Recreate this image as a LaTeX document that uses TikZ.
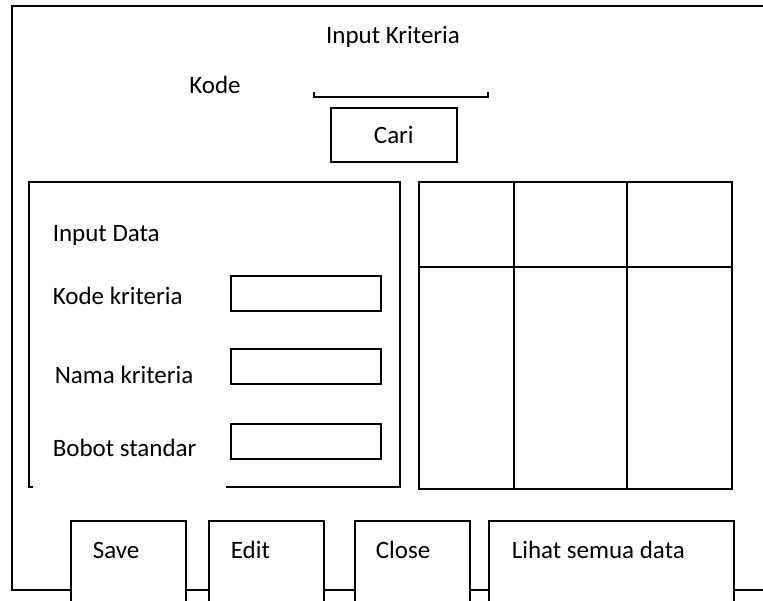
\documentclass[tikz,border=0pt]{standalone}
\usepackage{fontspec}
\setmainfont{Carlito}
\usetikzlibrary{positioning}
\tikzset{
  lbl/.style={inner sep=0pt, anchor=west},
  field/.style={draw, line width=1.6pt, inner sep=0pt, minimum width=150pt, minimum height=35pt, anchor=north west},
  btn/.style={draw, fill=white, line width=1.6pt, inner sep=0pt, minimum height=110pt, anchor=north west}
}
\begin{document}
\begin{tikzpicture}[x=1pt, y=-1pt, line width=1.6pt, font=\fontsize{25}{30}\selectfont]
    \useasboundingbox (0,0) rectangle (763,600);
    \clip (0,0) rectangle (763,600);

    % --- Outer window (right side runs off the page) ---
    \draw (900,6) -- (12,6) -- (12,590) -- (900,590);
    \node[inner sep=0pt] (title) at (393,37) {Input Kriteria};

    % --- Search row ---
    \node[inner sep=0pt] (kode) at (215,85) {Kode};
    \draw (314,92) -- (314,97) -- (488,97) -- (488,92);
    \node[draw, inner sep=0pt, minimum width=126pt, minimum height=54pt,
          anchor=north west] (cari) at (330,107) {Cari};

    % --- Left panel: Input Data ---
    \draw (33,487) -- (29,487) -- (29,182) -- (400,182) -- (400,487) -- (226,487);
    \node[lbl] (inputdata) at (52,235) {Input Data};

    \node[lbl] (kodekrit) at (52,296) {Kode kriteria};
    \node[field] (kodebox) at (230,275) {};
    \node[lbl] (namakrit) at (54,375) {Nama kriteria};
    \node[field] (namabox) at (230,348) {};
    \node[lbl] (bobot) at (52,448) {Bobot standar};
    \node[field] (bobotbox) at (230,423) {};

    % --- Right panel: table ---
    \draw (419,182) rectangle (732,489);
    \draw (419,267) -- (732,267);
    \foreach \cx in {514, 627}
      \draw (\cx,182) -- (\cx,489);

    % --- Buttons ---
    \node[btn, minimum width=115pt] (save) at (70,520) {};
    \node[btn, minimum width=115pt] (edit) at (208,520) {};
    \node[btn, minimum width=115pt] (close) at (354,520) {};
    \node[btn, minimum width=245pt] (lihat) at (488,520) {};

    \node[lbl] (saveT) at ([xshift=22pt, yshift=-30pt]save.north west) {Save};
    \node[lbl] (editT) at ([xshift=22pt, yshift=-30pt]edit.north west) {Edit};
    \node[lbl] (closeT) at ([xshift=21pt, yshift=-30pt]close.north west) {Close};
    \node[lbl] (lihatT) at ([xshift=23pt, yshift=-30pt]lihat.north west) {Lihat semua data};
\end{tikzpicture}
\end{document}
